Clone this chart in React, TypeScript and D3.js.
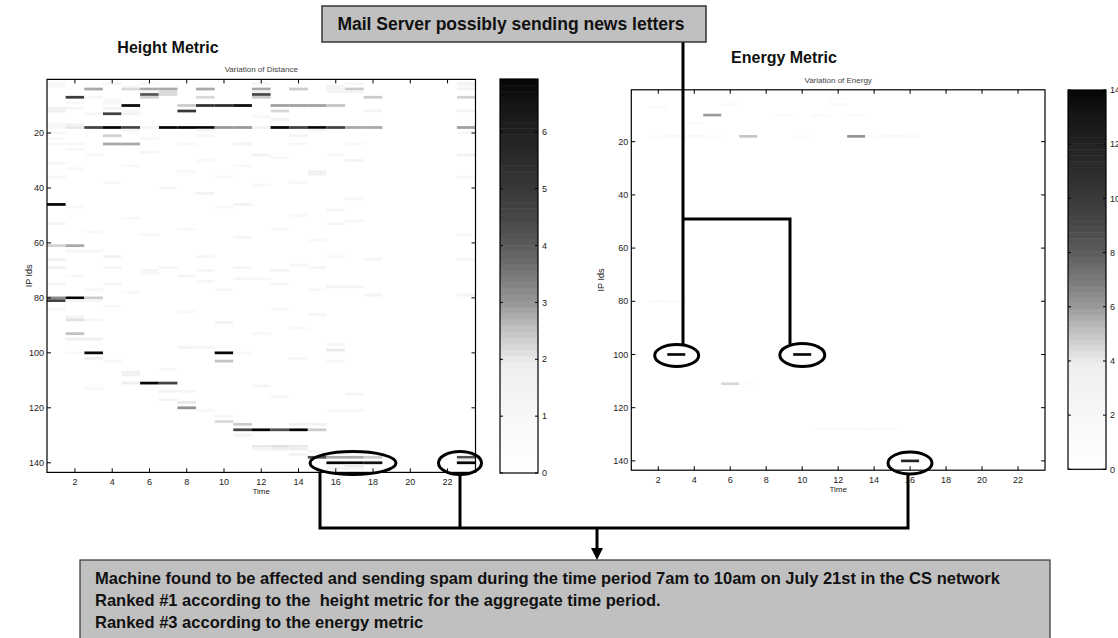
import * as d3 from "d3";
import { useEffect, useRef } from "react";

const W = 1118;
const H = 638;

// [time column, IP id row, value]
const heightCells: [number, number, number][] = [
  [1, 2, 1.2], [1, 3, 1], [4, 2, 1.2], [5, 3, 0.8], [6, 2, 1], [12, 2, 1.2], [16, 3, 1.5], [17, 2, 1], [23, 2, 1.5], [23, 3, 1],
  [3, 4, 2.8], [5, 4, 2.2], [6, 4, 2.8], [7, 4, 2.8], [9, 4, 2.8], [12, 4, 2.8], [14, 4, 2.4], [17, 4, 2.4], [23, 4, 1.5], [16, 4, 1.6],
  [6, 5, 1.5], [7, 5, 2.2], [12, 5, 1.8], [16, 5, 1.5], [17, 5, 1.5],
  [6, 6, 4.2], [12, 6, 4.5], [7, 6, 2.2],
  [2, 7, 4.8], [6, 7, 2.3], [9, 7, 2.2], [12, 7, 2.4], [18, 7, 2.4], [23, 7, 2.3], [3, 7, 1.2],
  [2, 9, 1], [4, 8, 1.2], [4, 9, 1.2],
  [5, 10, 6.8], [8, 10, 2.4], [9, 10, 5.3], [10, 10, 5.5], [11, 10, 6.8], [13, 10, 2.9], [14, 10, 2.9], [15, 10, 2.9], [16, 10, 2.5],
  [1, 11, 1.5], [2, 11, 1.2], [4, 11, 1.5],
  [8, 12, 5], [13, 12, 2.2], [1, 12, 1.8], [5, 12, 1.2], [18, 12, 1.5], [23, 12, 1.5],
  [4, 13, 4.6], [3, 13, 1.2], [5, 13, 1.5],
  [13, 15, 1.5], [12, 14, 1], [2, 17, 1.5], [1, 17, 1.2],
  [2, 18, 2], [3, 18, 4.6], [4, 18, 6.9], [5, 18, 4.6], [7, 18, 6.9], [8, 18, 6.9], [9, 18, 6.9], [10, 18, 3], [11, 18, 3],
  [12, 18, 1.5], [13, 18, 6.9], [14, 18, 4.6], [15, 18, 6.9], [16, 18, 4.6], [17, 18, 2.8], [18, 18, 2.8], [23, 18, 2.9], [1, 18, 1.2], [6, 18, 1.2],
  [1, 20, 1.2], [5, 19, 1.2], [9, 19, 1.2], [15, 19, 1.2], [23, 20, 1.2],
  [4, 21, 2.3], [9, 21, 1.2], [14, 21, 1.2], [1, 22, 1], [6, 22, 1],
  [4, 24, 2.8], [5, 24, 2.8], [11, 24, 1.5], [1, 24, 1.2], [2, 24, 1.2], [8, 24, 1], [14, 24, 1], [17, 24, 1],
  [2, 26, 1], [3, 28, 1], [6, 27, 1.2], [12, 28, 1.5], [16, 28, 1], [23, 28, 1.5], [9, 30, 1], [13, 29, 1], [1, 31, 1.2],
  [5, 32, 1], [11, 32, 1], [17, 30, 1.5], [2, 33, 1], [15, 34, 1.6], [15, 35, 1.6], [8, 34, 1], [1, 36, 1.2], [23, 36, 1.2],
  [10, 36, 1], [4, 38, 1], [14, 38, 1], [12, 39, 1], [7, 40, 1], [9, 42, 1.5], [11, 46, 1.5], [2, 47, 1], [17, 44, 1.2],
  [16, 48, 1.2], [10, 47, 1], [14, 50, 1], [5, 51, 1], [1, 53, 1.4], [13, 55, 1], [8, 55, 1], [17, 52, 1.2], [16, 53, 1.2],
  [3, 56, 1], [11, 58, 1.2], [15, 59, 1], [6, 57, 1], [23, 57, 1],
  [1, 46, 6.9],
  [1, 61, 2.3], [2, 61, 2.8],
  [2, 63, 1.2], [3, 63, 1.2], [4, 65, 1.5], [1, 66, 1.5], [9, 65, 1.2], [16, 65, 1], [18, 66, 1.2], [23, 66, 1.2], [1, 69, 1.5],
  [4, 69, 1.2], [6, 70, 1.4], [7, 69, 1.2], [9, 70, 1.2], [11, 69, 1.2], [13, 70, 1.4], [14, 68, 1.2], [15, 69, 1.2], [6, 71, 1.2],
  [8, 72, 1.3], [2, 72, 1], [1, 75, 1.2], [4, 75, 1.2], [9, 74, 1.2], [10, 77, 1], [13, 75, 1.2], [16, 76, 1.5], [17, 76, 1.5],
  [3, 77, 1], [5, 78, 1], [15, 77, 1], [18, 79, 1.5], [23, 79, 1.5], [12, 73, 1], [11, 73, 1.2],
  [1, 80, 3.2], [2, 80, 6.9], [3, 80, 2.4], [1, 81, 4.6], [2, 81, 1.2], [3, 81, 1.2],
  [1, 84, 1.2], [2, 87, 1.5], [2, 88, 2.1], [3, 88, 1.3], [4, 83, 1], [8, 85, 1], [13, 84, 1], [15, 86, 1.2], [2, 93, 2.5],
  [2, 95, 1.8], [3, 95, 1.8], [10, 89, 1.5], [12, 93, 1], [16, 97, 1.2], [14, 91, 1], [8, 98, 1.5], [9, 98, 1.2],
  [3, 100, 6.9], [10, 100, 6.9], [2, 100, 1], [11, 100, 1], [16, 99, 2],
  [3, 102, 1.8], [10, 103, 2.5], [4, 103, 1.2], [16, 103, 1.2], [14, 102, 1.2],
  [5, 107, 1.6], [5, 108, 1.6], [7, 106, 1], [5, 111, 1.8], [6, 111, 6.9], [7, 111, 4.6], [7, 114, 1.5], [3, 113, 1], [8, 114, 1.2],
  [7, 117, 1.5], [8, 118, 2], [8, 120, 3.1], [9, 121, 1], [10, 123, 1.3], [10, 125, 2.2], [11, 126, 2.4], [12, 112, 1.2],
  [13, 116, 1.2], [17, 115, 1.5], [17, 121, 1], [16, 121, 1],
  [11, 128, 4.6], [12, 128, 6.9], [13, 128, 4.3], [14, 128, 6.9], [15, 128, 2.4], [14, 126, 1.6], [15, 126, 1.6],
  [11, 130, 1.5], [12, 134, 2], [13, 134, 2.1], [14, 134, 2], [12, 135, 1.5], [13, 135, 1.8], [14, 135, 1.8], [14, 137, 1.4], [15, 136, 1.2],
  [15, 138, 4.3], [16, 138, 2.8], [17, 138, 2.8], [18, 138, 2.4], [23, 138, 4.3], [23, 139, 1.8],
  [16, 140, 6.9], [17, 140, 6.9], [18, 140, 6.5], [23, 140, 6.9], [17, 141, 2], [17, 142, 1.5], [16, 142, 1.5],
];

const energyCells: [number, number, number][] = [
  [2, 7, 1.5], [6, 6, 1.5], [5, 10, 6], [9, 10, 1], [11, 10, 1.5], [13, 10, 1], [12, 4, 1], [12, 6, 1.5], [4, 13, 1],
  [2, 18, 1], [3, 18, 2], [4, 18, 2], [5, 18, 1], [7, 18, 5], [10, 18, 1.2], [13, 18, 6.2], [14, 18, 1.2], [15, 18, 2], [16, 18, 1.5],
  [2, 80, 1.5], [3, 80, 1],
  [3, 100, 13.8], [10, 100, 13.8],
  [6, 111, 4.5], [7, 111, 1],
  [11, 128, 1], [12, 128, 1.2], [13, 128, 1.5], [14, 128, 1.5], [15, 128, 1],
  [16, 140, 12],
];

const timeTicks = [2, 4, 6, 8, 10, 12, 14, 16, 18, 20, 22];
const ipTicks = [20, 40, 60, 80, 100, 120, 140];
const heightBarTicks = [0, 1, 2, 3, 4, 5, 6];
const energyBarTicks = [0, 2, 4, 6, 8, 10, 12, 14];

const bottomLines = [
  "Machine found to be affected and sending spam during the time period 7am to 10am on July 21st in the CS network",
  "Ranked #1 according to the  height metric for the aggregate time period.",
  "Ranked #3 according to the energy metric",
];

// inverted gray map, steeper in the middle like the source colorbars
const grayStops = [
  [0, 255], [0.14, 248], [0.28, 238], [0.3, 226], [0.36, 196], [0.43, 153], [0.5, 122],
  [0.58, 90], [0.65, 70], [0.72, 56], [0.79, 44], [0.87, 32], [0.94, 20], [1, 5],
];
const grayScale = d3
  .scaleLinear()
  .domain(grayStops.map((s) => s[0]))
  .range(grayStops.map((s) => s[1]))
  .clamp(true);
const grayOf = (t: number) => {
  const g = Math.round(grayScale(t));
  return `rgb(${g},${g},${g})`;
};

const FONT = "'Liberation Sans', Arial, Helvetica, sans-serif";

type Panel = {
  x: [number, number];
  y: [number, number];
  bar: { x: number; w: number; y: [number, number] };
  max: number;
  cells: [number, number, number][];
  barTicks: number[];
  title: string;
  ylabX: number;
};

function drawPanel(svg: any, p: Panel) {
  const xs = d3.scaleLinear().domain([0.5, 23.5]).range(p.x);
  const ys = d3.scaleLinear().domain([0.5, 143.5]).range(p.y);
  const g = svg.append("g");

  g.append("rect")
    .attr("x", p.x[0]).attr("y", p.y[0])
    .attr("width", p.x[1] - p.x[0]).attr("height", p.y[1] - p.y[0])
    .attr("fill", "#fff");

  g.append("g")
    .selectAll("rect")
    .data(p.cells)
    .join("rect")
    .attr("x", (d: any) => xs(d[0] - 0.5))
    .attr("y", (d: any) => ys(d[1] - 0.5))
    .attr("width", xs(1.5) - xs(0.5))
    .attr("height", ys(1.5) - ys(0.5))
    .attr("fill", (d: any) => grayOf(d[2] / p.max));

  g.append("rect")
    .attr("x", p.x[0]).attr("y", p.y[0])
    .attr("width", p.x[1] - p.x[0]).attr("height", p.y[1] - p.y[0])
    .attr("fill", "none").attr("stroke", "#000").attr("stroke-width", 1.2);

  const tl = 4;
  timeTicks.forEach((t) => {
    const x = xs(t);
    g.append("line").attr("x1", x).attr("x2", x).attr("y1", p.y[1]).attr("y2", p.y[1] - tl).attr("stroke", "#000");
    g.append("line").attr("x1", x).attr("x2", x).attr("y1", p.y[0]).attr("y2", p.y[0] + tl).attr("stroke", "#000");
    g.append("text")
      .attr("x", x).attr("y", p.y[1] + 13)
      .attr("text-anchor", "middle").attr("font-size", 9).attr("font-family", FONT).attr("fill", "#222")
      .text(t);
  });
  ipTicks.forEach((t) => {
    const y = ys(t);
    g.append("line").attr("x1", p.x[0]).attr("x2", p.x[0] + tl).attr("y1", y).attr("y2", y).attr("stroke", "#000");
    g.append("line").attr("x1", p.x[1]).attr("x2", p.x[1] - tl).attr("y1", y).attr("y2", y).attr("stroke", "#000");
    g.append("text")
      .attr("x", p.x[0] - 3).attr("y", y + 3.2)
      .attr("text-anchor", "end").attr("font-size", 9).attr("font-family", FONT).attr("fill", "#222")
      .text(t);
  });

  const cx = (p.x[0] + p.x[1]) / 2;
  g.append("text")
    .attr("x", cx).attr("y", p.y[1] + 22)
    .attr("text-anchor", "middle").attr("font-size", 8).attr("font-family", FONT).attr("fill", "#222")
    .text("Time");
  g.append("text")
    .attr("x", cx).attr("y", p.y[0] - 7)
    .attr("text-anchor", "middle").attr("font-size", 8).attr("font-family", FONT).attr("fill", "#444")
    .text(p.title);
  g.append("text")
    .attr("transform", `translate(${p.ylabX}, ${(p.y[0] + p.y[1]) / 2}) rotate(-90)`)
    .attr("text-anchor", "middle").attr("font-size", 9).attr("font-family", FONT).attr("fill", "#222")
    .text("IP Ids");

  // colorbar, 64 bands
  const bs = d3.scaleLinear().domain([0, p.max]).range([p.bar.y[1], p.bar.y[0]]);
  const bands = d3.range(64);
  const bh = (p.bar.y[1] - p.bar.y[0]) / 64;
  g.append("g")
    .selectAll("rect")
    .data(bands)
    .join("rect")
    .attr("x", p.bar.x)
    .attr("y", (i: number) => p.bar.y[1] - (i + 1) * bh)
    .attr("width", p.bar.w)
    .attr("height", bh + 0.5)
    .attr("fill", (i: number) => grayOf((i + 0.5) / 64));
  g.append("rect")
    .attr("x", p.bar.x).attr("y", p.bar.y[0])
    .attr("width", p.bar.w).attr("height", p.bar.y[1] - p.bar.y[0])
    .attr("fill", "none").attr("stroke", "#000").attr("stroke-width", 1.2);
  p.barTicks.forEach((t) => {
    const y = bs(t);
    g.append("line").attr("x1", p.bar.x).attr("x2", p.bar.x + 3).attr("y1", y).attr("y2", y).attr("stroke", "#000");
    g.append("line").attr("x1", p.bar.x + p.bar.w).attr("x2", p.bar.x + p.bar.w - 3).attr("y1", y).attr("y2", y).attr("stroke", "#000");
    g.append("text")
      .attr("x", p.bar.x + p.bar.w + 4).attr("y", y + 3.2)
      .attr("font-size", 9).attr("font-family", FONT).attr("fill", "#222")
      .text(t);
  });
}

export default function App() {
  const ref = useRef<SVGSVGElement>(null);

  useEffect(() => {
    document.body.style.margin = "0";
    const svg = d3.select(ref.current);
    svg.selectAll("*").remove();

    svg.append("rect").attr("width", W).attr("height", H).attr("fill", "#fff");

    drawPanel(svg, {
      x: [47, 475.5],
      y: [79.4, 472.4],
      bar: { x: 500, w: 38, y: [79, 473] },
      max: 6.93,
      cells: heightCells,
      barTicks: heightBarTicks,
      title: "Variation of Distance",
      ylabX: 32,
    });
    drawPanel(svg, {
      x: [631.3, 1045],
      y: [89.8, 470.2],
      bar: { x: 1068, w: 38, y: [90, 469.3] },
      max: 14,
      cells: energyCells,
      barTicks: energyBarTicks,
      title: "Variation of Energy",
      ylabX: 604,
    });

    const bold = (sel: any, size: number) =>
      sel.attr("font-family", FONT).attr("font-weight", "bold").attr("font-size", size).attr("fill", "#111");

    bold(svg.append("text").attr("x", 168).attr("y", 53).attr("text-anchor", "middle").text("Height Metric"), 16);
    bold(svg.append("text").attr("x", 784).attr("y", 63).attr("text-anchor", "middle").text("Energy Metric"), 16);

    // annotation strokes
    const ann = svg.append("g").attr("fill", "none").attr("stroke", "#000").attr("stroke-width", 3);
    const path = (pts: [number, number][]) => ann.append("path").attr("d", d3.line()(pts) as string);

    path([[683, 42], [683, 345]]);
    path([[683, 219], [790, 219], [790, 344]]);
    path([[320, 472], [320, 528], [908, 528], [908, 474]]);
    path([[460, 474.5], [460, 528]]);
    path([[597, 528], [597, 550]]);
    svg.append("path").attr("d", "M591,548 L603,548 L597,560 Z").attr("fill", "#000");

    const ellipses: [number, number, number, number][] = [
      [353, 463, 43, 11.5],
      [460, 463, 21.5, 11.5],
      [676.7, 355.5, 22, 11],
      [802.3, 355, 22.5, 11.5],
      [910, 463, 22, 11],
    ];
    ellipses.forEach(([x, y, rx, ry]) =>
      ann.append("ellipse").attr("cx", x).attr("cy", y).attr("rx", rx).attr("ry", ry)
    );

    // top callout box
    svg.append("rect").attr("x", 322).attr("y", 6).attr("width", 384).attr("height", 36)
      .attr("fill", "#c0c0c0").attr("stroke", "#333").attr("stroke-width", 1.5);
    bold(svg.append("text").attr("x", 511).attr("y", 30).attr("text-anchor", "middle")
      .text("Mail Server possibly sending news letters"), 17.5);

    // bottom callout box
    svg.append("rect").attr("x", 80).attr("y", 560).attr("width", 970).attr("height", 100)
      .attr("fill", "#c0c0c0").attr("stroke", "#333").attr("stroke-width", 1.2);
    bottomLines.forEach((t, i) => {
      bold(svg.append("text").attr("x", 95).attr("y", 584 + i * 22).text(t), 16.5).style("white-space", "pre");
    });
  }, []);

  return <svg ref={ref} width={W} height={H} style={{ display: "block" }} />;
}
